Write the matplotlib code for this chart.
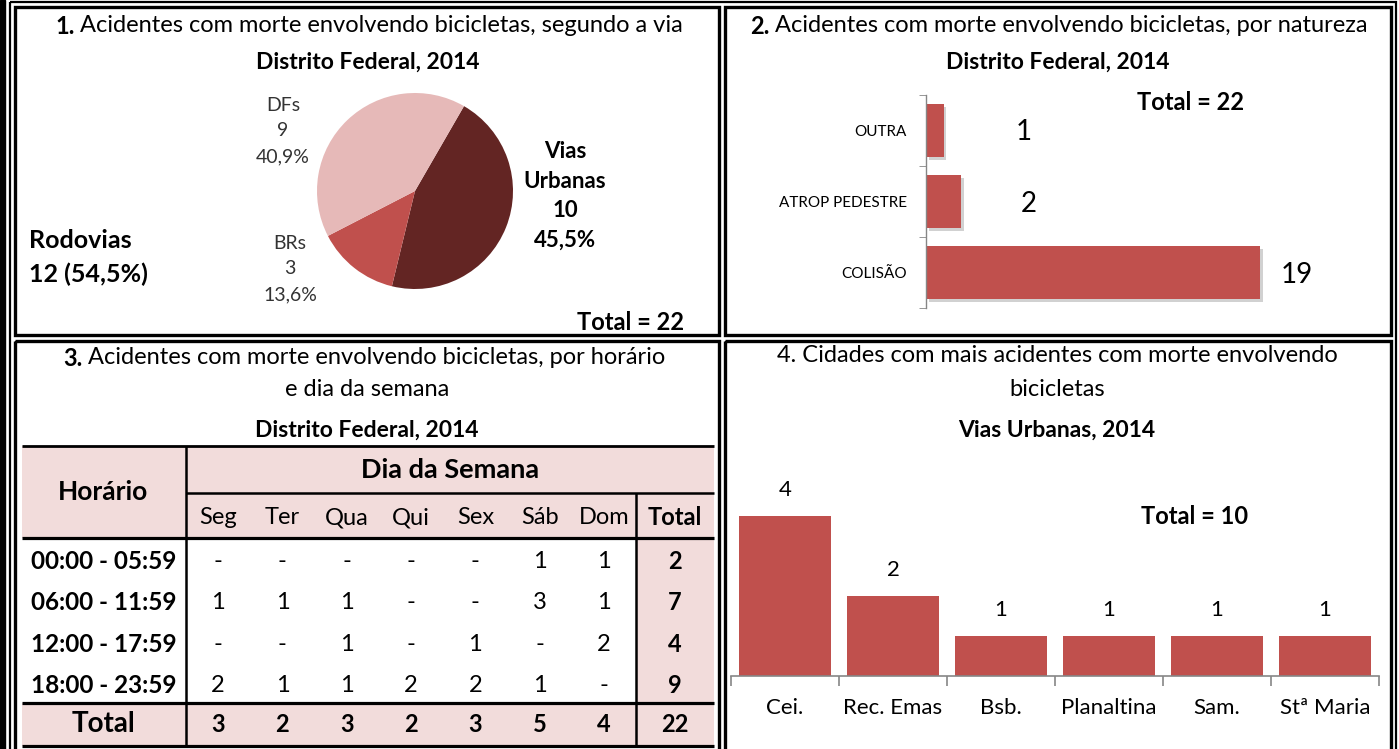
import matplotlib
matplotlib.use('Agg')
import matplotlib.pyplot as plt
from matplotlib.patches import Rectangle
from matplotlib import patheffects as pe

plt.rcParams['font.family'] = ['Lato', 'DejaVu Sans']

W, H = 1399, 749

# ---- data ----
via_labels = ['Vias\nUrbanas', 'BRs', 'DFs']
via_values = [10, 3, 9]
via_colors = ['#632523', '#C0504D', '#E6B9B8']

natureza_labels = ['COLISÃO', 'ATROP PEDESTRE', 'OUTRA']
natureza_values = [19, 2, 1]

horarios = ['00:00 - 05:59', '06:00 - 11:59', '12:00 - 17:59', '18:00 - 23:59']
dias = ['Seg', 'Ter', 'Qua', 'Qui', 'Sex', 'Sáb', 'Dom']
tabela = [[0, 0, 0, 0, 0, 1, 1],
          [1, 1, 1, 0, 0, 3, 1],
          [0, 0, 1, 0, 1, 0, 2],
          [2, 1, 1, 2, 2, 1, 0]]

cidades = ['Cei.', 'Rec. Emas', 'Bsb.', 'Planaltina', 'Sam.', 'Stª Maria']
cidades_values = [4, 2, 1, 1, 1, 1]

BAR = '#C0504D'
PINK = '#F2DCDB'
AXGRAY = '#868686'


def pct(v, total):
    return f'{v / total * 100:.1f}%'.replace('.', ',')


def px_axes(fig, x0, y0, x1, y1):
    ax = fig.add_axes([x0 / W, 1 - y1 / H, (x1 - x0) / W, (y1 - y0) / H])
    ax.patch.set_visible(False)
    return ax


def title_bold_num(ax, x, y, num, rest, size):
    t = ax.text(x, y, num, fontsize=size, fontweight='bold', va='center', ha='left')
    ax.annotate(rest, xy=(1, 0.5), xycoords=t, fontsize=size, va='center', ha='left')


def main():
    fig = plt.figure(figsize=(W / 100, H / 100), dpi=100)
    bg = fig.add_axes([0, 0, 1, 1])
    bg.set_xlim(0, W)
    bg.set_ylim(H, 0)
    bg.axis('off')

    # frames
    bg.add_patch(Rectangle((0, 0), 5, H, color='black'))
    bg.add_patch(Rectangle((10, 2), 1386, 800, fill=False, lw=1.6, ec='black'))
    for (x0, y0, x1, y1) in [(15, 7, 719, 335), (724.5, 7, 1391, 335),
                             (15, 341, 719, 900), (724.5, 341, 1391, 900)]:
        bg.add_patch(Rectangle((x0, y0), x1 - x0, y1 - y0, fill=False, lw=2.4, ec='black'))

    tsize = 17
    ssize = 16.5
    # ---------- panel 1: pie ----------
    title_bold_num(bg, 55, 26, '1.', ' Acidentes com morte envolvendo bicicletas, segundo a via', tsize)
    bg.text(368, 62, 'Distrito Federal, 2014', fontsize=ssize, fontweight='bold', ha='center', va='center')

    total = sum(via_values)
    ax1 = px_axes(fig, 317, 93, 513, 289)
    ax1.pie(via_values, colors=via_colors, startangle=60, counterclock=False,
            wedgeprops=dict(linewidth=0))
    ax1.set_xlim(-1, 1)
    ax1.set_ylim(-1, 1)

    bg.text(565, 196, f'{via_labels[0]}\n{via_values[0]}\n{pct(via_values[0], total)}',
            fontsize=16, fontweight='bold', ha='center', va='center', linespacing=1.5)
    bg.text(290, 269, f'{via_labels[1]}\n{via_values[1]}\n{pct(via_values[1], total)}',
            fontsize=14, ha='center', va='center', color='#333333', linespacing=1.6)
    bg.text(283, 131, f'{via_labels[2]}\n{via_values[2]}\n{pct(via_values[2], total)}',
            fontsize=14, ha='center', va='center', color='#333333', linespacing=1.6)
    rod = via_values[1] + via_values[2]
    bg.text(29, 240, 'Rodovias', fontsize=18, fontweight='bold', ha='left', va='center')
    bg.text(29, 274, f'{rod} ({pct(rod, total)})', fontsize=18, fontweight='bold',
            ha='left', va='center')
    bg.text(684, 322, f'Total = {total}', fontsize=17, fontweight='bold', ha='right', va='center')

    # ---------- panel 2: horizontal bars ----------
    title_bold_num(bg, 750, 26, '2.', ' Acidentes com morte envolvendo bicicletas, por natureza', tsize)
    bg.text(1058, 62, 'Distrito Federal, 2014', fontsize=ssize, fontweight='bold', ha='center', va='center')

    ax2 = px_axes(fig, 926, 95, 1313, 308)
    pos = list(range(len(natureza_values)))
    bars = ax2.barh(pos, natureza_values, height=0.75, color=BAR)
    for b in bars:
        b.set_path_effects([pe.SimplePatchShadow(offset=(2, -2), shadow_rgbFace='#999999', alpha=0.45),
                            pe.Normal()])
    ax2.set_xlim(0, 22)
    ax2.set_ylim(-0.5, len(pos) - 0.5)
    for s in ['top', 'right', 'bottom']:
        ax2.spines[s].set_visible(False)
    ax2.spines['left'].set_color(AXGRAY)
    ax2.spines['left'].set_linewidth(1)
    ax2.set_xticks([])
    ax2.set_yticks(pos)
    ax2.set_yticklabels(natureza_labels, fontsize=11)
    ax2.tick_params(axis='y', which='major', length=0, pad=14)
    ax2.set_yticks([p - 0.5 for p in pos] + [pos[-1] + 0.5], minor=True)
    ax2.tick_params(axis='y', which='minor', length=5, color=AXGRAY, direction='out')
    label_dx = [37, 68, 80]
    for p, v, dx in zip(pos, natureza_values, label_dx):
        ax2.annotate(str(v), xy=(v, p), xytext=(dx, -2), textcoords='offset pixels',
                     ha='center', va='center', fontsize=20)
    bg.text(1191, 103, f'Total = {sum(natureza_values)}', fontsize=17, fontweight='bold',
            ha='center', va='center')

    # ---------- panel 3: table ----------
    title_bold_num(bg, 63, 358, '3.', ' Acidentes com morte envolvendo bicicletas, por horário', tsize)
    bg.text(367, 389, 'e dia da semana', fontsize=tsize, ha='center', va='center')
    bg.text(367, 430, 'Distrito Federal, 2014', fontsize=ssize, fontweight='bold', ha='center', va='center')

    xl, xa, xt, xr = 22, 186, 636, 714
    y_top, y_mid, y_hd, y_tot, y_bot = 446, 493, 538, 703, 746
    # pink areas
    bg.add_patch(Rectangle((xl, y_top), xr - xl, y_hd - y_top, color=PINK, lw=0))
    bg.add_patch(Rectangle((xt, y_hd), xr - xt, y_tot - y_hd, color=PINK, lw=0))
    bg.add_patch(Rectangle((xl, y_tot), xr - xl, y_bot - y_tot, color=PINK, lw=0))
    for y, lw in [(y_top, 2), (y_hd, 2.3), (y_tot, 2.3), (y_bot, 2.3)]:
        bg.plot([xl, xr], [y, y], color='black', lw=lw, solid_capstyle='butt')
    bg.plot([xa, xr], [y_mid, y_mid], color='black', lw=1.8, solid_capstyle='butt')
    bg.plot([xa, xa], [y_top, y_bot], color='black', lw=1.8, solid_capstyle='butt')
    bg.plot([xt, xt], [y_mid, y_bot], color='black', lw=1.8, solid_capstyle='butt')

    cw = (xt - xa) / len(dias)
    col_x = [xa + cw * (i + 0.5) for i in range(len(dias))]
    tot_x = (xt + xr) / 2
    lab_x = (xl + xa) / 2
    bg.text(lab_x - 1, (y_top + y_hd) / 2, 'Horário', fontsize=19, fontweight='bold',
            ha='center', va='center')
    bg.text((xa + xr) / 2, (y_top + y_mid) / 2, 'Dia da Semana', fontsize=19.5,
            fontweight='bold', ha='center', va='center')
    yh2 = (y_mid + y_hd) / 2 + 2
    for x, d in zip(col_x, dias):
        bg.text(x, yh2, d, fontsize=17, ha='center', va='center')
    bg.text(tot_x, yh2, 'Total', fontsize=17, fontweight='bold', ha='center', va='center')

    rh = (y_tot - y_hd) / len(horarios)
    for r, (h, row) in enumerate(zip(horarios, tabela)):
        y = y_hd + rh * (r + 0.5) + 3
        bg.text(lab_x, y, h, fontsize=17.5, fontweight='bold', ha='center', va='center')
        for x, v in zip(col_x, row):
            bg.text(x, y, str(v) if v else '-', fontsize=17, ha='center', va='center')
        bg.text(tot_x, y, str(sum(row)), fontsize=17, fontweight='bold', ha='center', va='center')
    yt = (y_tot + y_bot) / 2
    bg.text(lab_x, yt, 'Total', fontsize=20, fontweight='bold', ha='center', va='center')
    col_tot = [sum(c) for c in zip(*tabela)]
    for x, v in zip(col_x, col_tot):
        bg.text(x, yt, str(v), fontsize=17, fontweight='bold', ha='center', va='center')
    bg.text(tot_x, yt, str(sum(col_tot)), fontsize=17, fontweight='bold', ha='center', va='center')

    # ---------- panel 4: vertical bars ----------
    bg.text(1057, 355, '4. Cidades com mais acidentes com morte envolvendo', fontsize=tsize,
            ha='center', va='center')
    bg.text(1057, 389, 'bicicletas', fontsize=tsize, ha='center', va='center')
    bg.text(1057, 430, 'Vias Urbanas, 2014', fontsize=ssize, fontweight='bold', ha='center', va='center')

    ax4 = px_axes(fig, 731, 476, 1379, 676)
    xs = list(range(len(cidades)))
    ax4.bar(xs, cidades_values, width=0.85, color=BAR)
    ax4.set_xlim(-0.5, len(xs) - 0.5)
    ax4.set_ylim(0, 5)
    for s in ['top', 'right', 'left']:
        ax4.spines[s].set_visible(False)
    ax4.spines['bottom'].set_color(AXGRAY)
    ax4.spines['bottom'].set_linewidth(1.2)
    ax4.set_yticks([])
    ax4.set_xticks(xs)
    ax4.set_xticklabels(cidades, fontsize=16)
    ax4.tick_params(axis='x', which='major', length=0, pad=16)
    ax4.set_xticks([x - 0.5 for x in xs] + [xs[-1] + 0.5], minor=True)
    ax4.tick_params(axis='x', which='minor', length=7, color=AXGRAY, direction='out', width=1.2)
    for x, v in zip(xs, cidades_values):
        ax4.annotate(str(v), xy=(x, v), xytext=(0, 26), textcoords='offset pixels',
                     ha='center', va='center', fontsize=16)
    bg.text(1195, 517, f'Total = {sum(cidades_values)}', fontsize=17, fontweight='bold',
            ha='center', va='center')

    fig.savefig('out.png', dpi=100)
    plt.close(fig)


if __name__ == '__main__':
    main()
